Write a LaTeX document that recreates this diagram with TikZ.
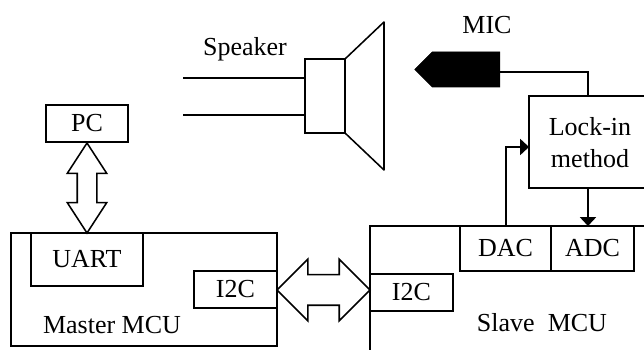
\documentclass[tikz,border=0pt]{standalone}
\usepackage{fontspec}
\setmainfont{Liberation Serif}
\usetikzlibrary{arrows.meta,shapes.arrows,shapes.symbols}
\tikzset{
	block/.style={draw=black,line width=1.1pt,inner sep=0pt,outer sep=0pt,font=\fontsize{18.5}{22.7}\selectfont},
	txt/.style={inner sep=0pt,align=center,font=\fontsize{18.5}{22.7}\selectfont},
	wire/.style={line width=1.1pt},
	tipwire/.style={line width=1.1pt,-{Triangle[length=2.2mm,width=4mm]}},
	bigarrow/.style={double arrow,draw=black,fill=white,line width=1.1pt,inner sep=0pt,outer sep=0pt}
}
\begin{document}
\begin{tikzpicture}
		\clip (0,0) rectangle (16.1,8.75);
		% speaker
		\node[block,minimum width=1cm,minimum height=1.85cm] at (8.125,6.35) (speaker) {};
		\draw[wire,line join=round] (speaker.north east) -- (9.6,8.2) -- (9.6,4.5) -- (speaker.south east);
		\coordinate (wire1) at (4.575,6.8);
		\coordinate (wire2) at (4.575,5.875);
		\draw[wire] (wire1) -- (wire1 -| speaker.west);
		\draw[wire] (wire2) -- (wire2 -| speaker.west);
		\node[txt] at (6.125,7.525) (speakerlabel) {Speaker};
		% mic and lock-in
		\node[signal,signal to=west,draw=black,fill=black,inner sep=0pt,outer sep=0pt,minimum width=2.125cm,minimum height=.875cm] at (11.65,7.0125) (mic) {};
		\node[txt] at (12.175,8.125) (miclabel) {MIC};
		\node[block,minimum width=3.775cm,minimum height=2.3cm] at (15.1125,5.2) (lockin) {};
		\node[txt] at (14.75,5.175) (lockinlabel) {Lock-in\\method};
		% master side
		\node[block,minimum width=2.05cm,minimum height=.925cm] at (2.175,5.6625) (pc) {PC};
		\node[block,minimum width=6.65cm,minimum height=2.825cm] at (3.6,1.5125) (master) {};
		\node[block,minimum width=2.8cm,minimum height=1.325cm] at (2.175,2.2625) (uart) {UART};
		\node[block,minimum width=2.075cm,minimum height=.925cm] at (5.8875,1.5125) (i2cm) {I2C};
		\node[txt] at (2.8,.625) (masterlabel) {Master MCU};
		% slave side
		\node[block,minimum width=7.75cm,minimum height=4.1cm] at (13.125,1.05) (slave) {};
		\node[block,minimum width=2.075cm,minimum height=.925cm] at (10.2875,1.4375) (i2cs) {I2C};
		\node[block,minimum width=2.275cm,minimum height=1.125cm] at (12.6375,2.5375) (dac) {DAC};
		\node[block,minimum width=2.075cm,minimum height=1.125cm] at (14.8125,2.5375) (adc) {ADC};
		\node[txt] at (13.55,.675) (slavelabel) {Slave\ \ MCU};
		% buses
		\node[bigarrow,rotate=90,minimum height=2.25cm,double arrow head extend=.25cm,double arrow tip angle=66] at (2.175,4.05) (uartbus) {\rule{0pt}{.45cm}};
		\node[bigarrow,minimum height=2.325cm,double arrow head extend=.3875cm,double arrow tip angle=90] at (8.0875,1.5) (i2cbus) {\rule{0pt}{.725cm}};
		% signals
		\coordinate (micout) at (12.5,6.95);
		\coordinate (lockintop) at (14.7,6.35);
		\coordinate (lockinin) at (13.225,5.075);
		\coordinate (dacout) at (12.65,3.1);
		\coordinate (lockinout) at (14.7,4.05);
		\coordinate (adcin) at (14.7,3.1);
		\draw[wire] (micout) -| (lockintop);
		\draw[tipwire] (dacout) |- (lockinin);
		\draw[tipwire] (lockinout) -- (adcin);
	\end{tikzpicture}
\end{document}
